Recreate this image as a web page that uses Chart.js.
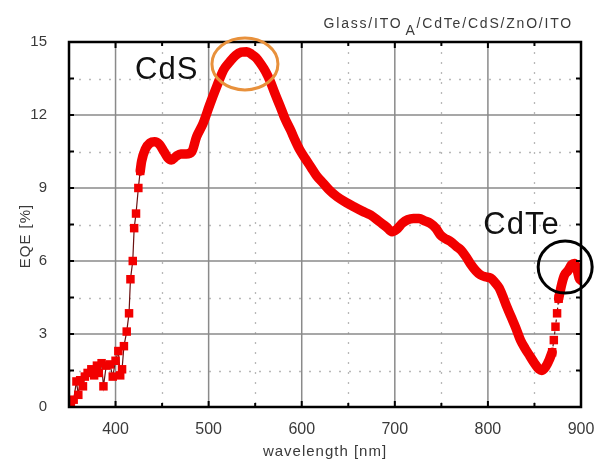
<!DOCTYPE html>
<html>
<head>
<meta charset="utf-8">
<script src="https://cdn.jsdelivr.net/npm/chart.js@4.4.0/dist/chart.umd.min.js"></script>
<style>
  html, body { margin: 0; padding: 0; background: #fff; }
  #wrap { width: 595px; height: 463px; position: relative; }
</style>
</head>
<body>
<div id="wrap"><canvas id="eqe"></canvas></div>
<script>
// valores
const lowWave = [352, 355, 358, 360, 362, 365, 367, 370, 374, 377, 380, 382, 385, 387, 390, 394, 397, 400, 403, 405, 407, 409, 412, 414.5, 416, 418.5, 420, 422, 424.5, 426.5];
const lowEqe = [0.1, 0.3, 1.05, 0.5, 1.1, 0.85, 1.25, 1.4, 1.55, 1.3, 1.7, 1.4, 1.8, 0.85, 1.7, 1.75, 1.25, 1.9, 2.3, 1.3, 1.55, 2.5, 3.1, 3.85, 5.25, 6.0, 7.35, 7.95, 9.0, 9.7];

const curveWave = [426.5, 428, 432, 437, 442, 447, 452, 456, 460, 465, 470, 476, 482, 487, 494, 501, 509, 516, 523, 529, 535, 541, 546, 551, 556, 561, 566, 571, 577, 582, 588, 593, 598, 604, 610, 616, 623, 630, 638, 647, 656, 665, 674, 684, 691, 697, 702, 708, 714, 720, 726, 732, 738, 744, 749, 755, 760, 766, 771, 776, 781, 787, 792, 797, 803, 808, 812, 816, 820, 825, 830, 835, 840, 845, 850, 855, 858, 862, 866, 869];
const curveEqe = [9.7, 10.1, 10.6, 10.85, 10.9, 10.8, 10.5, 10.25, 10.15, 10.3, 10.4, 10.4, 10.5, 11.1, 11.65, 12.4, 13.2, 13.85, 14.2, 14.45, 14.58, 14.6, 14.5, 14.35, 14.1, 13.8, 13.4, 12.9, 12.34, 11.85, 11.38, 10.95, 10.56, 10.2, 9.85, 9.5, 9.2, 8.9, 8.64, 8.42, 8.23, 8.05, 7.89, 7.6, 7.4, 7.2, 7.3, 7.55, 7.7, 7.75, 7.75, 7.65, 7.55, 7.35, 7.07, 6.9, 6.8, 6.6, 6.45, 6.2, 5.9, 5.6, 5.43, 5.35, 5.3, 5.1, 4.9, 4.55, 4.15, 3.7, 3.25, 2.75, 2.4, 2.1, 1.8, 1.55, 1.5, 1.65, 1.95, 2.25];

const riseWave = [869, 870.8, 872.6, 874.3, 876];
const riseEqe = [2.25, 2.75, 3.3, 3.85, 4.45];

const tailWave = [876, 879, 882, 886, 890, 893, 896, 898, 900];
const tailEqe = [4.45, 5.0, 5.4, 5.6, 5.85, 5.9, 5.6, 5.3, 5.2];

// ejes
const xTicks = [400, 500, 600, 700, 800, 900];
const xMinor = [450, 550, 650, 750, 850];
const yTicks = [0, 3, 6, 9, 12, 15];
const yMinor = [1.5, 4.5, 7.5, 10.5, 13.5];

const titleMain = 'Glass/ITO';
const titleSub = 'A';
const titleRest = '/CdTe/CdS/ZnO/ITO';
const xTitle = 'wavelength [nm]';
const yTitle = 'EQE [%]';

const toPoints = (xs, ys) => xs.map((x, i) => ({ x: x, y: ys[i] }));

const RED = '#f20000';
const TEXT = '#3a3a3a';

// rejilla, marco, marcas y anotaciones
const decoraciones = {
  id: 'decoraciones',
  beforeDatasetsDraw(chart) {
    const { ctx, chartArea: a, scales: { x, y } } = chart;
    ctx.save();
    // rejilla menor punteada
    ctx.strokeStyle = '#b8b8b8';
    ctx.lineWidth = 1.3;
    ctx.setLineDash([2, 8]);
    xMinor.forEach(v => {
      const px = Math.round(x.getPixelForValue(v)) + 0.5;
      ctx.beginPath(); ctx.moveTo(px, a.top); ctx.lineTo(px, a.bottom); ctx.stroke();
    });
    yMinor.forEach(v => {
      const py = Math.round(y.getPixelForValue(v)) + 0.5;
      ctx.beginPath(); ctx.moveTo(a.left, py); ctx.lineTo(a.right, py); ctx.stroke();
    });
    // rejilla mayor
    ctx.setLineDash([]);
    ctx.strokeStyle = '#8a8a8a';
    ctx.lineWidth = 1.5;
    xTicks.forEach(v => {
      const px = x.getPixelForValue(v);
      ctx.beginPath(); ctx.moveTo(px, a.top); ctx.lineTo(px, a.bottom); ctx.stroke();
    });
    yTicks.forEach(v => {
      const py = y.getPixelForValue(v);
      ctx.beginPath(); ctx.moveTo(a.left, py); ctx.lineTo(a.right, py); ctx.stroke();
    });
    ctx.restore();
  },
  afterDatasetsDraw(chart) {
    const { ctx, chartArea: a, scales: { x, y } } = chart;
    ctx.save();
    // marcas hacia dentro
    ctx.strokeStyle = '#000';
    ctx.lineWidth = 2;
    const xt = xTicks.concat(xMinor);
    xt.forEach(v => {
      const px = x.getPixelForValue(v);
      const len = xMinor.includes(v) ? 4 : 6;
      ctx.beginPath(); ctx.moveTo(px, a.bottom); ctx.lineTo(px, a.bottom - len); ctx.stroke();
      ctx.beginPath(); ctx.moveTo(px, a.top); ctx.lineTo(px, a.top + len); ctx.stroke();
    });
    const yt = yTicks.concat(yMinor);
    yt.forEach(v => {
      const py = y.getPixelForValue(v);
      ctx.beginPath(); ctx.moveTo(a.left, py); ctx.lineTo(a.left + 5, py); ctx.stroke();
      ctx.beginPath(); ctx.moveTo(a.right, py); ctx.lineTo(a.right - 5, py); ctx.stroke();
    });
    // marco
    ctx.lineWidth = 2.5;
    ctx.strokeRect(a.left, a.top, a.right - a.left, a.bottom - a.top);

    // CdS / CdTe
    ctx.fillStyle = '#111';
    ctx.font = '31px "Liberation Sans", Arial, sans-serif';
    ctx.letterSpacing = '1px';
    ctx.textBaseline = 'alphabetic';
    ctx.textAlign = 'left';
    ctx.fillText('CdS', x.getPixelForValue(421), y.getPixelForValue(13.5));
    ctx.fillText('CdTe', x.getPixelForValue(795), y.getPixelForValue(7.1));
    ctx.letterSpacing = '0px';

    ctx.lineWidth = 3;
    ctx.strokeStyle = '#e8913c';
    ctx.beginPath();
    ctx.ellipse(x.getPixelForValue(539), y.getPixelForValue(14.1), 33, 26, 0, 0, Math.PI * 2);
    ctx.stroke();

    ctx.strokeStyle = '#000';
    ctx.beginPath();
    ctx.ellipse(x.getPixelForValue(883), y.getPixelForValue(5.75), 27, 26, 0, 0, Math.PI * 2);
    ctx.stroke();
    ctx.restore();
  },
  afterDraw(chart) {
    const { ctx, chartArea: a } = chart;
    ctx.save();
    ctx.fillStyle = TEXT;
    // titulo con subindice
    ctx.font = '14px "Liberation Sans", Arial, sans-serif';
    ctx.letterSpacing = '1.8px';
    ctx.textBaseline = 'alphabetic';
    ctx.textAlign = 'left';
    const w1 = ctx.measureText(titleMain).width;
    const w3 = ctx.measureText(titleRest).width;
    ctx.font = '14px "Liberation Sans", Arial, sans-serif';
    const w2 = ctx.measureText(titleSub).width;
    let tx = a.right - 8 - (w1 + w2 + w3 + 3);
    ctx.fillText(titleMain, tx, 28);
    tx += w1 + 3;
    ctx.fillText(titleSub, tx, 35);
    tx += w2;
    ctx.fillText(titleRest, tx, 28);

    // titulos de ejes
    ctx.font = '15px "Liberation Sans", Arial, sans-serif';
    ctx.letterSpacing = '1px';
    ctx.textAlign = 'center';
    ctx.textBaseline = 'middle';
    ctx.fillText(xTitle, (a.left + a.right) / 2, 452);
    ctx.translate(26, 236);
    ctx.rotate(-Math.PI / 2);
    ctx.fillText(yTitle, 0, 0);
    ctx.restore();
  }
};

const ctx = document.getElementById('eqe').getContext('2d');
Chart.defaults.font.family = '"Liberation Sans", Arial, sans-serif';
Chart.defaults.color = TEXT;

new Chart(ctx, {
  type: 'line',
  data: {
    datasets: [
      {
        data: toPoints(lowWave, lowEqe),
        borderColor: '#6a1010',
        borderWidth: 1.2,
        pointStyle: 'rect',
        pointRadius: 6,
        pointBackgroundColor: RED,
        pointBorderColor: RED,
        pointBorderWidth: 0
      },
      {
        data: toPoints(curveWave, curveEqe),
        borderColor: RED,
        borderWidth: 9.5,
        borderJoinStyle: 'round',
        borderCapStyle: 'round',
        cubicInterpolationMode: 'monotone',
        pointRadius: 0
      },
      {
        data: toPoints(riseWave, riseEqe),
        borderColor: '#6a1010',
        borderWidth: 1.2,
        borderDash: [3, 3],
        pointStyle: 'rect',
        pointRadius: 6,
        pointBackgroundColor: RED,
        pointBorderColor: RED,
        pointBorderWidth: 0
      },
      {
        data: toPoints(tailWave, tailEqe),
        borderColor: RED,
        borderWidth: 9.5,
        borderJoinStyle: 'round',
        borderCapStyle: 'round',
        cubicInterpolationMode: 'monotone',
        pointRadius: 0
      }
    ]
  },
  options: {
    responsive: true,
    maintainAspectRatio: false,
    animation: false,
    layout: { padding: { top: 42, right: 14, left: 0, bottom: 0 } },
    plugins: { legend: { display: false }, tooltip: { enabled: false } },
    scales: {
      x: {
        type: 'linear',
        min: 350,
        max: 900,
        afterBuildTicks: s => { s.ticks = xTicks.map(v => ({ value: v })); },
        afterFit: s => { s.height = 56; s.paddingLeft = 0; s.paddingRight = 0; },
        grid: { display: false },
        border: { display: false },
        ticks: { padding: 5, font: { size: 16 }, color: TEXT, maxRotation: 0 }
      },
      y: {
        type: 'linear',
        min: 0,
        max: 15,
        afterBuildTicks: s => { s.ticks = yTicks.map(v => ({ value: v })); },
        afterFit: s => { s.width = 69; s.paddingTop = 0; s.paddingBottom = 0; },
        grid: { display: false },
        border: { display: false },
        ticks: { padding: 14, font: { size: 15 }, color: TEXT }
      }
    }
  },
  plugins: [decoraciones]
});
</script>
</body>
</html>
